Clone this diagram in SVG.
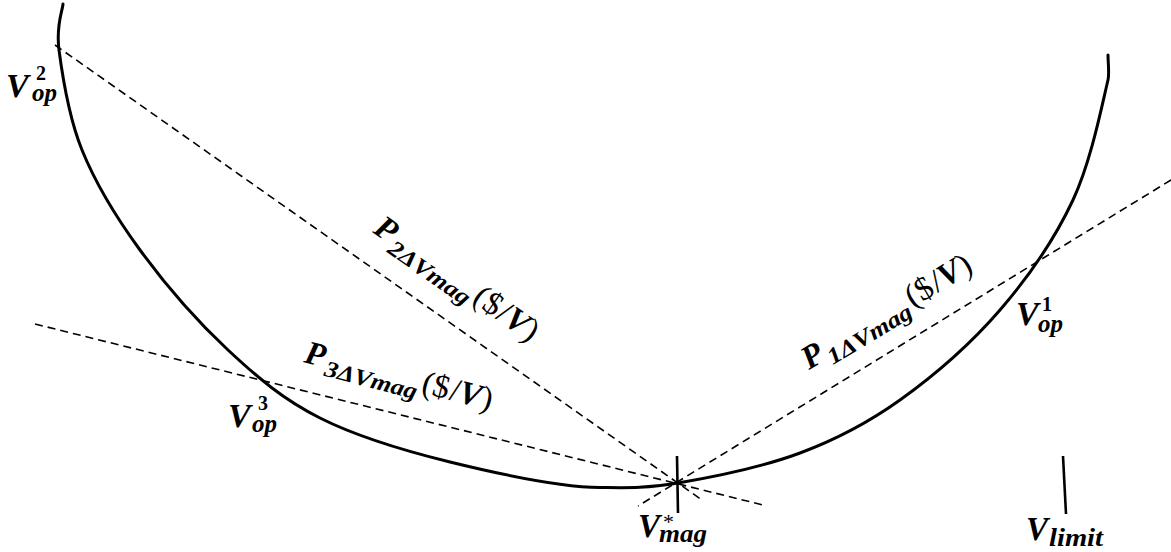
<svg xmlns="http://www.w3.org/2000/svg" width="1171" height="552" viewBox="0 0 1171 552">
  <style>
    .curve { fill: none; stroke: #000; stroke-width: 3; stroke-linecap: round; }
    .dash { fill: none; stroke: #000; stroke-width: 1.6; stroke-dasharray: 8 5; }
    .tick { fill: none; stroke: #000; stroke-width: 2.6; }
    .m { font-family: "Liberation Serif", "Times New Roman", serif; font-weight: bold; font-style: italic; fill: #000; }
    .d { font-family: "Liberation Serif", "Times New Roman", serif; font-weight: bold; font-style: normal; fill: #000; }
    .up { font-family: "Liberation Serif", "Times New Roman", serif; font-weight: normal; font-style: normal; fill: #000; }
  </style>

  <!-- cost curve -->
  <g id="cost-curve">
    <path class="curve" d="M63,4 C62.3,11.7 55.8,25.7 59,50 C62.2,74.3 68.5,116.7 82,150 C95.5,183.3 115.7,216.7 140,250 C164.3,283.3 198,322 228,350 C258,378 283,399.3 320,418 C357,436.7 403.3,450.5 450,462 C496.7,473.5 560,487 600,487.5 C626,487.8 644.7,488.7 678,483 C711.3,477.3 763,466.8 800,453 C837,439.2 866.7,423.8 900,400 C933.3,376.2 971.2,343.3 1000,310 C1028.8,276.7 1055,238.3 1073,200 C1091,161.7 1102.2,104.2 1108,80 C1109.5,74 1108,62 1108,55"/>
  </g>

  <!-- slope lines through the optimum -->
  <g id="connectors">
    <line class="dash" x1="55" y1="45" x2="702" y2="500"/>
    <line class="dash" x1="35" y1="324" x2="763" y2="505"/>
    <line class="dash" x1="1171" y1="180" x2="638" y2="506"/>
  </g>

  <!-- markers -->
  <g id="vmag-tick">
    <line class="tick" x1="677" y1="456" x2="678" y2="513"/>
  </g>
  <g id="vlimit-tick">
    <line class="tick" x1="1063" y1="456" x2="1066" y2="514"/>
  </g>

  <!-- operating point labels -->
  <g id="v-op-2">
    <text class="m" x="6" y="97" font-size="34">V</text>
    <text class="d" x="36" y="80" font-size="20">2</text>
    <text class="m" x="32" y="101" font-size="25">op</text>
  </g>
  <g id="v-op-3">
    <text class="m" x="228" y="427" font-size="34">V</text>
    <text class="d" x="258" y="410" font-size="20">3</text>
    <text class="m" x="252" y="432" font-size="25">op</text>
  </g>
  <g id="v-op-1">
    <text class="m" x="1016" y="325" font-size="34">V</text>
    <text class="d" x="1042" y="311" font-size="20">1</text>
    <text class="m" x="1038" y="332" font-size="25">op</text>
  </g>
  <g id="v-mag-star">
    <text class="m" x="638" y="537" font-size="33">V</text>
    <text class="up" x="663" y="529" font-size="22">*</text>
    <text class="m" x="659" y="542" font-size="25" textLength="48" lengthAdjust="spacingAndGlyphs">mag</text>
  </g>
  <g id="v-limit">
    <text class="m" x="1026" y="540" font-size="33">V</text>
    <text class="m" x="1049" y="546" font-size="25" textLength="54" lengthAdjust="spacingAndGlyphs">limit</text>
  </g>

  <!-- slope labels -->
  <g id="p2-label" transform="translate(372,232) rotate(35)">
    <text class="m" x="0" y="0" font-size="33">P</text>
    <text class="m" x="23" y="8" font-size="23" textLength="95" lengthAdjust="spacingAndGlyphs">2ΔVmag</text>
    <text class="up" x="121" y="0" font-size="33">(</text>
    <text class="up" x="132" y="0" font-size="33">$</text>
    <text class="up" x="150" y="0" font-size="33">/</text>
    <text class="m" x="159" y="0" font-size="33">V</text>
    <text class="up" x="182" y="0" font-size="33">)</text>
  </g>
  <g id="p3-label" transform="translate(303,362) rotate(14.5)">
    <text class="m" x="0" y="0" font-size="33">P</text>
    <text class="m" x="23" y="8" font-size="23" textLength="95" lengthAdjust="spacingAndGlyphs">3ΔVmag</text>
    <text class="up" x="121" y="0" font-size="33">(</text>
    <text class="up" x="132" y="0" font-size="33">$</text>
    <text class="up" x="150" y="0" font-size="33">/</text>
    <text class="m" x="159" y="0" font-size="33">V</text>
    <text class="up" x="182" y="0" font-size="33">)</text>
  </g>
  <g id="p1-label" transform="translate(809,370) rotate(-31)">
    <text class="m" x="0" y="0" font-size="33">P</text>
    <text class="m" x="23" y="8" font-size="23" textLength="95" lengthAdjust="spacingAndGlyphs">1ΔVmag</text>
    <text class="up" x="121" y="0" font-size="33">(</text>
    <text class="up" x="132" y="0" font-size="33">$</text>
    <text class="up" x="150" y="0" font-size="33">/</text>
    <text class="m" x="159" y="0" font-size="33">V</text>
    <text class="up" x="182" y="0" font-size="33">)</text>
  </g>
</svg>
